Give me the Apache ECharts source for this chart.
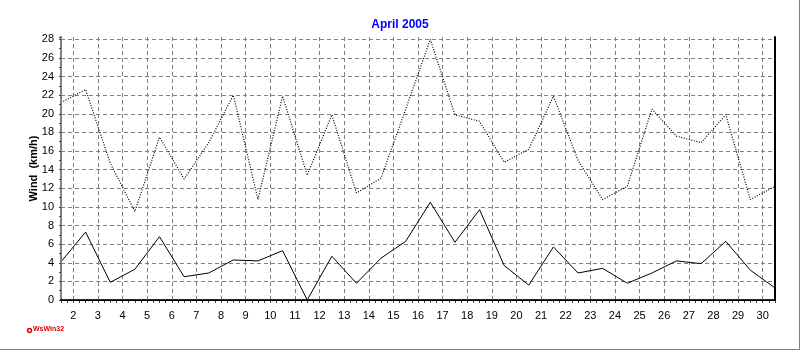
<!DOCTYPE html>
<html><head><meta charset="utf-8">
<script src="https://cdn.jsdelivr.net/npm/echarts@6/dist/echarts.min.js"></script>
<style>html,body{margin:0;padding:0;background:#fff}#c{width:800px;height:350px}</style>
</head><body><div id="c"></div>
<script>
const chartTitle = 'April 2005';
const yAxisName = 'Wind  (km/h)';
const days = [1,2,3,4,5,6,7,8,9,10,11,12,13,14,15,16,17,18,19,20,21,22,23,24,25,26,27,28,29,30];
const maxWind = [21.2,22.6,14.7,9.5,17.5,13.0,16.9,22.0,10.8,21.9,13.4,19.9,11.5,13.1,20.5,28.0,19.9,19.2,14.8,16.2,21.9,15.0,10.8,12.2,20.5,17.6,16.9,19.9,10.8,12.2];
const avgWind = [4.1,7.3,1.9,3.3,6.8,2.5,2.9,4.3,4.2,5.3,0.0,4.7,1.8,4.5,6.3,10.5,6.2,9.7,3.7,1.6,5.7,2.9,3.4,1.8,2.9,4.2,3.9,6.3,3.2,1.3];

// each daily value is plotted at noon of its day
const toPts = vals => days.map((d, i) => [d + 0.5, vals[i]]);
const X_MIN = 1.5, X_MAX = 30.5, Y_MIN = 0, Y_MAX = 28.25;
const FONT = 'Liberation Sans';
const gridDash = {color: '#808080', width: 1, type: [4, 3]};

const chart = echarts.init(document.getElementById('c'), null, {renderer: 'canvas'});
chart.setOption({
  animation: false,
  backgroundColor: '#fff',
  title: {
    text: chartTitle, left: 'center', top: 14,
    textStyle: {color: '#0000ff', fontFamily: FONT, fontWeight: 'bold', fontSize: 12}
  },
  grid: {left: 61, right: 25, top: 37, bottom: 50, containLabel: false},
  xAxis: [
    { // main axis: quarter-day ticks, integer day labels
      type: 'value', min: X_MIN, max: X_MAX, interval: 0.25, position: 'bottom', z: 4,
      axisLine: {show: true, lineStyle: {color: '#202020', width: 2, type: [1, 1]}},
      axisTick: {show: true, length: 3, lineStyle: {color: '#404040', width: 1}},
      axisLabel: {
        margin: 10, color: '#000', fontFamily: FONT, fontSize: 11,
        formatter: v => Number.isInteger(Math.round(v * 1000) / 1000) ? String(Math.round(v)) : ''
      },
      splitLine: {show: false}
    },
    { // day gridlines
      type: 'value', min: X_MIN, max: X_MAX, splitNumber: 25, position: 'bottom',
      axisLine: {show: false}, axisTick: {show: false}, axisLabel: {show: false},
      splitLine: {show: true, showMinLine: false, showMaxLine: false, lineStyle: gridDash}
    },
    { // top border
      type: 'value', min: X_MIN, max: X_MAX, position: 'top', z: 5,
      axisLine: {show: true, lineStyle: {color: '#000', width: 1}},
      axisTick: {show: false}, axisLabel: {show: false}, splitLine: {show: false}
    }
  ],
  yAxis: [
    {
      type: 'value', min: Y_MIN, max: Y_MAX, interval: 1, position: 'left', z: 4,
      name: yAxisName, nameLocation: 'middle', nameGap: 22, nameRotate: 90, nameMoveOverlap: false,
      nameTextStyle: {color: '#000', fontFamily: FONT, fontWeight: 'bold', fontSize: 11},
      axisLine: {show: true, lineStyle: {color: '#808080', width: 2}},
      axisTick: {show: true, length: 2, lineStyle: {color: '#404040', width: 1}},
      axisLabel: {
        margin: 7, color: '#000', fontFamily: FONT, fontSize: 11,
        formatter: v => (Number.isInteger(v) && v % 2 === 0) ? String(v) : ''
      },
      splitLine: {show: false}
    },
    {
      type: 'value', min: Y_MIN, max: Y_MAX, interval: 2, position: 'left',
      axisLine: {show: false}, axisTick: {show: false}, axisLabel: {show: false},
      splitLine: {show: true, showMinLine: false, showMaxLine: false, lineStyle: gridDash}
    },
    { // right border
      type: 'value', min: Y_MIN, max: Y_MAX, position: 'right', z: 5,
      axisLine: {show: true, lineStyle: {color: '#000', width: 2}},
      axisTick: {show: false}, axisLabel: {show: false}, splitLine: {show: false}
    }
  ],
  series: [
    {
      name: 'Gust', type: 'line', xAxisIndex: 0, yAxisIndex: 0,
      data: toPts(maxWind), symbol: 'none', z: 3,
      lineStyle: {color: '#000', width: 1.2, type: [1, 1.6]}
    },
    {
      name: 'Average', type: 'line', xAxisIndex: 0, yAxisIndex: 0,
      data: toPts(avgWind), symbol: 'none', z: 3,
      lineStyle: {color: '#000', width: 1, type: 'solid'}
    }
  ],
  graphic: [
    {type: 'circle', shape: {cx: 29.5, cy: 330.5, r: 2}, style: {fill: '#fff', stroke: '#e00000', lineWidth: 1.5}},
    {type: 'text', left: 33, top: 326, style: {text: 'WsWin32', fill: '#e00000', font: 'bold 7px "Liberation Sans"'}},
    {type: 'line', shape: {x1: 0, y1: 349.5, x2: 800, y2: 349.5}, style: {stroke: '#808080', lineWidth: 1}},
    {type: 'line', shape: {x1: 799.5, y1: 0, x2: 799.5, y2: 350}, style: {stroke: '#808080', lineWidth: 1}}
  ]
});
</script>
</body></html>
